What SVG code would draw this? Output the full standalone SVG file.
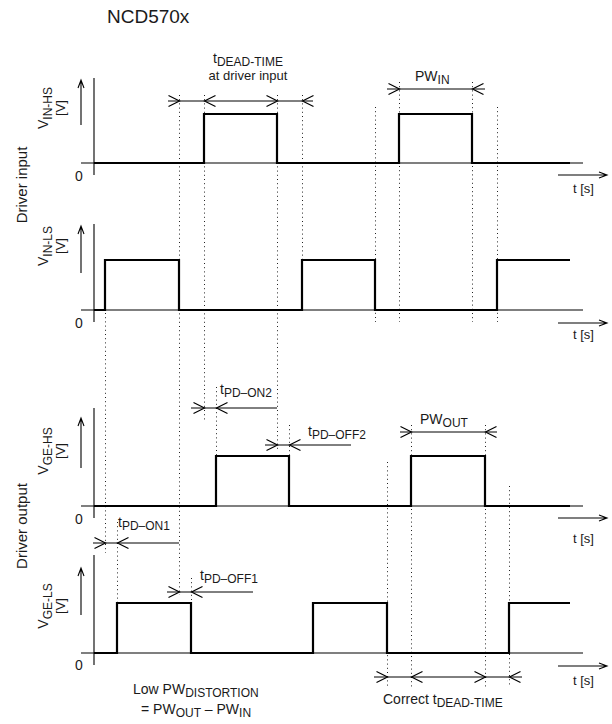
<svg xmlns="http://www.w3.org/2000/svg" width="612" height="724" viewBox="0 0 612 724">
<style>
text{font-family:"Liberation Sans",Arial,sans-serif;fill:#1a1a1a;font-size:14px}
.sub{font-size:12px}
.sm{font-size:13px}
.sig{fill:none;stroke:#000;stroke-width:2.2;stroke-linejoin:miter}
.ax{fill:none;stroke:#000;stroke-width:1.1}
.dot{fill:none;stroke:#222;stroke-width:1;stroke-dasharray:1 3.2}
.dim{fill:none;stroke:#000;stroke-width:1}
.chev{fill:none;stroke:#000;stroke-width:1.2}
</style>
<defs>
<path id="cr" class="chev" d="M-11,-5.5 L0,0 L-11,5.5"/>
<path id="cl" class="chev" d="M11,-5.5 L0,0 L11,5.5"/>
</defs>
<rect width="612" height="724" fill="#fff"/>
<text x="107" y="23" style="font-size:19px">NCD570x</text>

<g id="group-labels">
<text transform="translate(27,185) rotate(-90)" text-anchor="middle" style="font-size:15px">Driver input</text>
<text transform="translate(27,526) rotate(-90)" text-anchor="middle" style="font-size:15px">Driver output</text>
</g>

<g id="dotted-guides">
<path class="dot" d="M179.5 95V595 M204.5 95V420 M277.5 95V450 M302.5 95V310 M375.5 107V322 M399.5 82V322 M472.5 82V322 M497.5 107V322 M105.5 313V553 M216.5 387V456 M289.5 425V456 M387.5 462V687 M411.5 425V687 M485.5 425V687 M509.5 486V687 M117.5 522V603 M191.5 578V603"/>
</g>

<g id="panel-vin-hs">
<path class="ax" d="M94 78V175 M81 163H583"/>
<path class="ax" d="M81 125V80 M78 88L81 80L84 88"/>
<path class="ax" d="M558 175H607 M599 172L607 175L599 178"/>
<path class="sig" d="M94 163H204V114H277V163H399V114H472V163H570"/>
<text transform="translate(48,108) rotate(-90)" text-anchor="middle">V<tspan class="sub" dy="4">IN-HS</tspan></text>
<text transform="translate(65,108) rotate(-90)" text-anchor="middle" class="sm">[V]</text>
<text x="79" y="181" text-anchor="middle">0</text>
<text x="573" y="193" class="sm">t [s]</text>
</g>

<g id="panel-vin-ls">
<path class="ax" d="M94 224V322 M81 310H583"/>
<path class="ax" d="M81 273V226 M78 234L81 226L84 234"/>
<path class="ax" d="M558 323H607 M599 320L607 323L599 326"/>
<path class="sig" d="M94 310H105V260H179V310H302V260H375V310H497V260H570"/>
<text transform="translate(48,246) rotate(-90)" text-anchor="middle">V<tspan class="sub" dy="4">IN-LS</tspan></text>
<text transform="translate(65,246) rotate(-90)" text-anchor="middle" class="sm">[V]</text>
<text x="79" y="328" text-anchor="middle">0</text>
<text x="573" y="339" class="sm">t [s]</text>
</g>

<g id="panel-vge-hs">
<path class="ax" d="M94 408V518 M81 506H583"/>
<path class="ax" d="M81 468V418 M78 426L81 418L84 426"/>
<path class="ax" d="M558 518H607 M599 515L607 518L599 521"/>
<path class="sig" d="M94 506H216V456H289V506H411V456H485V506H570"/>
<text transform="translate(48,451) rotate(-90)" text-anchor="middle">V<tspan class="sub" dy="4">GE-HS</tspan></text>
<text transform="translate(65,451) rotate(-90)" text-anchor="middle" class="sm">[V]</text>
<text x="79" y="524" text-anchor="middle">0</text>
<text x="573" y="543" class="sm">t [s]</text>
</g>

<g id="panel-vge-ls">
<path class="ax" d="M94 555V665 M81 653H583"/>
<path class="ax" d="M81 615V568 M78 576L81 568L84 576"/>
<path class="ax" d="M558 666H607 M599 663L607 666L599 669"/>
<path class="sig" d="M94 653H117V603H191V653H313V603H387V653H509V603H570"/>
<text transform="translate(48,606) rotate(-90)" text-anchor="middle">V<tspan class="sub" dy="4">GE-LS</tspan></text>
<text transform="translate(65,606) rotate(-90)" text-anchor="middle" class="sm">[V]</text>
<text x="79" y="670" text-anchor="middle">0</text>
<text x="573" y="685" class="sm">t [s]</text>
</g>

<g id="connectors">
<!-- dead time at input -->
<path class="dim" d="M168 101H313"/>
<use href="#cr" x="179.5" y="101"/><use href="#cl" x="204.5" y="101"/>
<use href="#cr" x="277.5" y="101"/><use href="#cl" x="302.5" y="101"/>
<!-- PW_IN -->
<path class="dim" d="M387 89H485"/>
<use href="#cr" x="399.5" y="89"/><use href="#cl" x="472.5" y="89"/>
<!-- tPD-ON2 -->
<path class="dim" d="M191 408H277"/>
<use href="#cr" x="204.5" y="408"/><use href="#cl" x="216.5" y="408"/>
<!-- tPD-OFF2 -->
<path class="dim" d="M265 445H351"/>
<use href="#cr" x="277.5" y="445"/><use href="#cl" x="289.5" y="445"/>
<!-- PW_OUT -->
<path class="dim" d="M400 432H497"/>
<use href="#cr" x="411.5" y="432"/><use href="#cl" x="485.5" y="432"/>
<!-- tPD-ON1 -->
<path class="dim" d="M93 543H179"/>
<use href="#cr" x="105.5" y="543"/><use href="#cl" x="117.5" y="543"/>
<!-- tPD-OFF1 -->
<path class="dim" d="M167 592H253"/>
<use href="#cr" x="179.5" y="592"/><use href="#cl" x="191.5" y="592"/>
<!-- correct dead time -->
<path class="dim" d="M374 677H522"/>
<use href="#cr" x="387.5" y="677"/><use href="#cl" x="411.5" y="677"/>
<use href="#cr" x="485.5" y="677"/><use href="#cl" x="509.5" y="677"/>
</g>

<g id="annotations">
<text x="213" y="63">t<tspan class="sub" dy="3">DEAD-TIME</tspan></text>
<text x="248" y="80" text-anchor="middle" class="sm">at driver input</text>
<text x="415" y="81">PW<tspan class="sub" dy="3">IN</tspan></text>
<text x="220" y="394">t<tspan class="sub" dy="3">PD–ON2</tspan></text>
<text x="308" y="436">t<tspan class="sub" dy="3">PD–OFF2</tspan></text>
<text x="420" y="424">PW<tspan class="sub" dy="3">OUT</tspan></text>
<text x="118" y="527">t<tspan class="sub" dy="3">PD–ON1</tspan></text>
<text x="200" y="580">t<tspan class="sub" dy="3">PD–OFF1</tspan></text>
<text x="133" y="694">Low PW<tspan class="sub" dy="3">DISTORTION</tspan></text>
<text x="141" y="714">= PW<tspan class="sub" dy="3">OUT</tspan><tspan dy="-3"> – PW</tspan><tspan class="sub" dy="3">IN</tspan></text>
<text x="383" y="704">Correct  t<tspan class="sub" dy="3">DEAD-TIME</tspan></text>
</g>
</svg>
